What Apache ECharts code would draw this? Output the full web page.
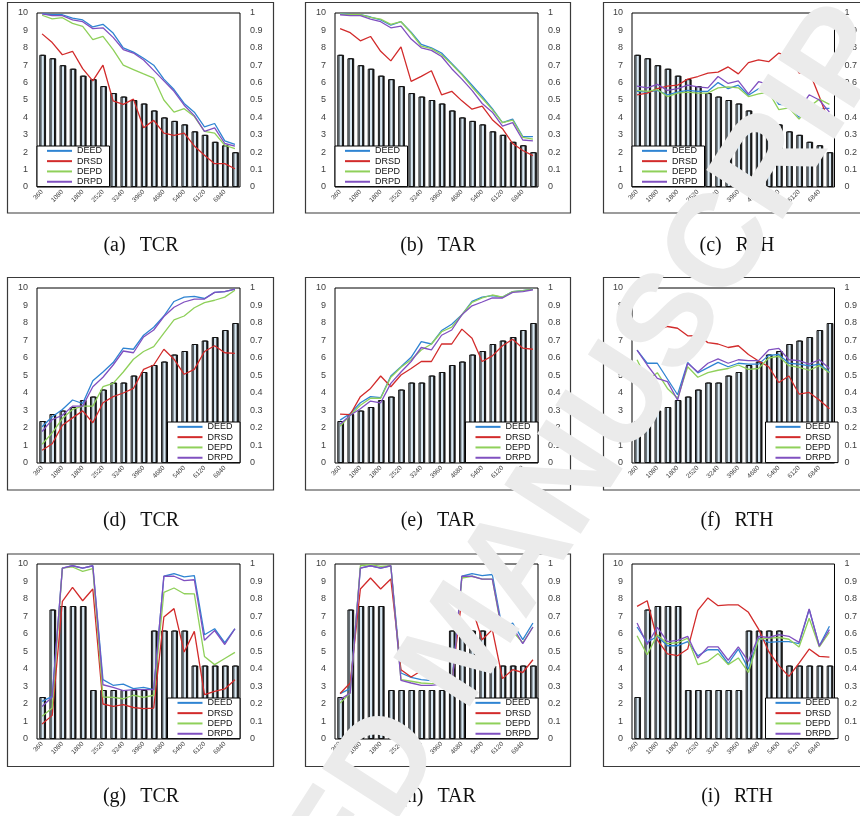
<!DOCTYPE html>
<html>
<head>
<meta charset="utf-8">
<script src="https://cdn.jsdelivr.net/npm/echarts@6/dist/echarts.min.js"></script>
<style>
html,body{margin:0;padding:0;background:#fff;}
#chart{width:860px;height:816px;}
</style>
</head>
<body>
<div id="chart"></div>
<script>
// ---------- data ----------
const categories = ['360','720','1080','1440','1800','2160','2520','2880','3240','3600','3960','4320','4680','5040','5400','5760','6120','6480','6840','7200'];
const seriesNames = ['DEED','DRSD','DEPD','DRPD'];
const captionLetters = ['(a)','(b)','(c)','(d)','(e)','(f)','(g)','(h)','(i)'];
const captionMetrics = ['TCR','TAR','RTH','TCR','TAR','RTH','TCR','TAR','RTH'];

const barsDec  = [7.6,7.4,7.0,6.8,6.4,6.2,5.8,5.4,5.2,5.0,4.8,4.4,4.0,3.8,3.6,3.2,3.0,2.6,2.4,2.0];
const barsInc  = [2.4,2.8,3.0,3.2,3.6,3.8,4.2,4.6,4.6,5.0,5.2,5.6,5.8,6.2,6.4,6.8,7.0,7.2,7.6,8.0];
const barsStep = [2.4,7.4,7.6,7.6,7.6,2.8,2.8,2.8,2.8,2.8,2.8,6.2,6.2,6.2,6.2,4.2,4.2,4.2,4.2,4.2];

const a_DEED = [0.996,0.99,0.99,0.97,0.96,0.92,0.935,0.885,0.80,0.775,0.74,0.70,0.62,0.56,0.48,0.43,0.345,0.365,0.265,0.245];
const a_DRSD = [0.88,0.83,0.76,0.78,0.68,0.61,0.70,0.495,0.475,0.505,0.34,0.383,0.31,0.297,0.31,0.236,0.182,0.134,0.134,0.105];
const a_DEPD = [0.987,0.966,0.973,0.94,0.923,0.847,0.866,0.79,0.70,0.675,0.65,0.626,0.50,0.43,0.45,0.405,0.32,0.31,0.24,0.22];
const a_DRPD = [0.995,0.985,0.985,0.96,0.95,0.91,0.915,0.86,0.79,0.77,0.73,0.67,0.61,0.55,0.47,0.41,0.32,0.34,0.25,0.235];

const b_DEED = [0.996,0.992,0.99,0.977,0.96,0.93,0.95,0.89,0.82,0.80,0.77,0.71,0.65,0.585,0.52,0.45,0.37,0.39,0.29,0.29];
const b_DRSD = [0.91,0.887,0.84,0.865,0.78,0.725,0.805,0.607,0.636,0.668,0.53,0.55,0.495,0.447,0.465,0.387,0.335,0.25,0.21,0.18];
const b_DEPD = [0.995,0.99,0.99,0.975,0.965,0.935,0.95,0.885,0.81,0.795,0.76,0.705,0.645,0.575,0.51,0.445,0.37,0.385,0.285,0.275];
const b_DRPD = [0.99,0.985,0.985,0.965,0.95,0.915,0.925,0.85,0.80,0.785,0.75,0.68,0.62,0.555,0.48,0.43,0.35,0.37,0.27,0.265];

const c_DEED = [0.55,0.545,0.555,0.53,0.545,0.555,0.55,0.55,0.60,0.565,0.585,0.527,0.565,0.56,0.475,0.47,0.40,0.465,0.45,0.452];
const c_DRSD = [0.53,0.54,0.565,0.58,0.585,0.62,0.635,0.655,0.66,0.69,0.65,0.715,0.73,0.72,0.77,0.75,0.655,0.665,0.52,0.365];
const c_DEPD = [0.555,0.55,0.56,0.52,0.54,0.545,0.54,0.54,0.57,0.575,0.57,0.52,0.535,0.545,0.445,0.455,0.39,0.46,0.505,0.475];
const c_DRPD = [0.58,0.57,0.59,0.555,0.565,0.585,0.575,0.57,0.635,0.595,0.61,0.535,0.605,0.59,0.485,0.475,0.445,0.53,0.50,0.43];

const d_DEED = [0.207,0.264,0.306,0.36,0.34,0.47,0.52,0.574,0.656,0.65,0.73,0.776,0.84,0.923,0.948,0.952,0.94,0.975,0.979,0.994];
const d_DRSD = [0.073,0.11,0.216,0.258,0.298,0.23,0.344,0.379,0.40,0.426,0.535,0.56,0.65,0.593,0.507,0.535,0.637,0.67,0.63,0.627];
const d_DEPD = [0.107,0.172,0.254,0.306,0.325,0.325,0.436,0.455,0.52,0.593,0.637,0.665,0.742,0.818,0.84,0.887,0.916,0.93,0.948,0.987];
const d_DRPD = [0.18,0.248,0.273,0.325,0.325,0.436,0.49,0.56,0.64,0.63,0.72,0.76,0.837,0.89,0.92,0.937,0.937,0.975,0.979,0.994];

const e_DEED = [0.245,0.283,0.344,0.379,0.373,0.497,0.55,0.604,0.694,0.68,0.757,0.793,0.847,0.924,0.948,0.956,0.948,0.979,0.985,0.994];
const e_DRSD = [0.279,0.277,0.379,0.426,0.497,0.436,0.503,0.54,0.58,0.58,0.68,0.68,0.765,0.713,0.58,0.612,0.67,0.707,0.656,0.65];
const e_DEPD = [0.21,0.273,0.33,0.37,0.37,0.49,0.547,0.59,0.646,0.68,0.75,0.776,0.847,0.918,0.943,0.96,0.948,0.979,0.985,0.994];
const e_DRPD = [0.222,0.273,0.31,0.354,0.344,0.455,0.52,0.58,0.66,0.646,0.73,0.76,0.847,0.898,0.92,0.943,0.943,0.975,0.979,0.99];

const f_DEED = [0.645,0.57,0.57,0.48,0.39,0.575,0.515,0.545,0.575,0.55,0.57,0.565,0.565,0.615,0.62,0.57,0.565,0.555,0.565,0.52];
const f_DRSD = [0.707,0.748,0.76,0.78,0.77,0.727,0.728,0.688,0.68,0.66,0.67,0.62,0.583,0.55,0.46,0.497,0.394,0.403,0.36,0.31];
const f_DEPD = [0.59,0.47,0.516,0.426,0.37,0.55,0.49,0.516,0.53,0.54,0.56,0.535,0.54,0.60,0.61,0.556,0.547,0.53,0.556,0.516];
const f_DRPD = [0.645,0.56,0.484,0.465,0.36,0.57,0.52,0.57,0.595,0.57,0.59,0.585,0.585,0.646,0.655,0.59,0.585,0.565,0.59,0.54];

const g_DEED = [0.215,0.244,0.977,0.99,0.977,0.99,0.339,0.307,0.314,0.288,0.295,0.282,0.93,0.945,0.926,0.933,0.596,0.63,0.55,0.63];
const g_DRSD = [0.086,0.135,0.787,0.867,0.79,0.857,0.20,0.186,0.196,0.18,0.173,0.177,0.697,0.745,0.497,0.615,0.253,0.272,0.286,0.339];
const g_DEPD = [0.13,0.177,0.977,0.983,0.958,0.973,0.24,0.238,0.23,0.25,0.238,0.25,0.838,0.863,0.83,0.829,0.472,0.425,0.46,0.495];
const g_DRPD = [0.186,0.24,0.977,0.99,0.977,0.99,0.31,0.295,0.276,0.282,0.282,0.282,0.93,0.93,0.905,0.91,0.564,0.62,0.54,0.63];

const h_DEED = [0.259,0.288,0.977,0.99,0.977,0.99,0.377,0.352,0.339,0.333,0.352,0.31,0.93,0.945,0.933,0.94,0.625,0.663,0.568,0.663];
const h_DRSD = [0.26,0.32,0.857,0.92,0.857,0.914,0.396,0.354,0.39,0.368,0.358,0.32,0.806,0.75,0.567,0.625,0.345,0.396,0.38,0.453];
const h_DEPD = [0.205,0.263,0.99,0.996,0.987,0.99,0.339,0.33,0.32,0.316,0.32,0.297,0.92,0.93,0.914,0.914,0.596,0.615,0.55,0.64];
const h_DRPD = [0.225,0.263,0.977,0.99,0.977,0.99,0.335,0.32,0.307,0.307,0.314,0.29,0.93,0.93,0.914,0.914,0.61,0.64,0.545,0.64];

const i_DEED = [0.64,0.552,0.587,0.533,0.533,0.557,0.476,0.51,0.51,0.43,0.514,0.40,0.576,0.552,0.557,0.557,0.545,0.74,0.533,0.644];
const i_DRSD = [0.758,0.79,0.567,0.486,0.476,0.514,0.735,0.806,0.762,0.766,0.766,0.724,0.628,0.50,0.419,0.358,0.434,0.514,0.472,0.468];
const i_DEPD = [0.59,0.482,0.596,0.545,0.55,0.576,0.425,0.444,0.488,0.425,0.463,0.38,0.57,0.576,0.58,0.57,0.526,0.69,0.526,0.61];
const i_DRPD = [0.663,0.54,0.638,0.557,0.564,0.587,0.463,0.526,0.526,0.45,0.526,0.444,0.587,0.58,0.596,0.587,0.552,0.743,0.53,0.625];

const panelBars  = [barsDec, barsDec, barsDec, barsInc, barsInc, barsInc, barsStep, barsStep, barsStep];
const panelLines = [
  [a_DEED,a_DRSD,a_DEPD,a_DRPD],[b_DEED,b_DRSD,b_DEPD,b_DRPD],[c_DEED,c_DRSD,c_DEPD,c_DRPD],
  [d_DEED,d_DRSD,d_DEPD,d_DRPD],[e_DEED,e_DRSD,e_DEPD,e_DRPD],[f_DEED,f_DRSD,f_DEPD,f_DRPD],
  [g_DEED,g_DRSD,g_DEPD,g_DRPD],[h_DEED,h_DRSD,h_DEPD,h_DRPD],[i_DEED,i_DRSD,i_DEPD,i_DRPD]
];
const leftTicks = [0,1,2,3,4,5,6,7,8,9,10];
const rightTicks = ['0','0.1','0.2','0.3','0.4','0.5','0.6','0.7','0.8','0.9','1'];

// ---------- styling / layout ----------
const lineColors = ['#2f84d2','#d22b2b','#8fd05a','#8050c0'];
const sans = '"Liberation Sans", Arial, sans-serif';
const serif = '"Liberation Serif", "DejaVu Serif", serif';
const W = 860;
const plotLeft = [37, 335, 632], plotRight = [240, 538, 838];
const plotTop = [13, 288, 564], plotBottom = [187, 463, 739];
const boxLeft = [7, 305, 603], boxRight = [273, 570, 880];
const boxTop = [2, 277, 553.5], boxBottom = [212.5, 489.5, 766];
const capX = [141, 438, 737], capY = [246, 521, 797];

const grid = [], xAxis = [], yAxis = [], series = [], legend = [], graphic = [];

for (let p = 0; p < 9; p++) {
  const r = Math.floor(p / 3), c = p % 3;
  grid.push({
    left: plotLeft[c], top: plotTop[r],
    width: plotRight[c] - plotLeft[c], height: plotBottom[r] - plotTop[r],
    show: true, borderColor: '#000', borderWidth: 1, backgroundColor: 'rgba(0,0,0,0)'
  });
  xAxis.push({
    type: 'category', gridIndex: p, data: categories,
    axisLine: {show: false}, axisTick: {show: false}, splitLine: {show: false},
    axisLabel: {interval: 1, rotate: 45, fontSize: 6.5, color: '#404040', margin: 4, fontFamily: sans}
  });
  yAxis.push({
    type: 'value', gridIndex: p, position: 'left', min: 0, max: 10, interval: 1,
    axisLine: {show: false}, axisTick: {show: false}, splitLine: {show: false},
    axisLabel: {fontSize: 9, color: '#404040', margin: 9, fontFamily: sans,
      formatter: v => String(leftTicks[Math.round(v)])}
  });
  yAxis.push({
    type: 'value', gridIndex: p, position: 'right', min: 0, max: 1, interval: 0.1,
    axisLine: {show: false}, axisTick: {show: false}, splitLine: {show: false},
    axisLabel: {fontSize: 9, color: '#404040', margin: 10, fontFamily: sans,
      formatter: v => rightTicks[Math.round(v * 10)]}
  });
  series.push({
    type: 'bar', name: 'bars' + p, xAxisIndex: p, yAxisIndex: 2 * p,
    data: panelBars[p], barWidth: '55%', silent: true,
    itemStyle: {color: '#d8e8f3', borderColor: '#111', borderWidth: 1,
      shadowColor: 'rgba(0,0,0,0.85)', shadowOffsetX: 1.2, shadowOffsetY: 0, shadowBlur: 0},
    z: 2
  });
  for (let s = 0; s < 4; s++) {
    series.push({
      type: 'line', name: seriesNames[s], xAxisIndex: p, yAxisIndex: 2 * p + 1,
      data: panelLines[p][s], symbol: 'none', silent: true,
      lineStyle: {width: 1.3, color: lineColors[s]}, itemStyle: {color: lineColors[s]},
      z: 3
    });
  }
  const lg = {
    data: seriesNames, orient: 'vertical', selectedMode: false,
    top: plotBottom[r] - 41,
    icon: 'rect', itemWidth: 25, itemHeight: 2, itemGap: 0.6,
    padding: [0, 7, 0, 10],
    backgroundColor: '#fff', borderColor: '#000', borderWidth: 1,
    textStyle: {fontSize: 9, fontFamily: sans, color: '#111', lineHeight: 9.7},
    z: 4
  };
  if (r === 0) lg.left = plotLeft[c]; else lg.right = W - plotRight[c];
  legend.push(lg);

  graphic.push({
    type: 'rect', z: 1, silent: true,
    shape: {x: boxLeft[c] + 0.5, y: boxTop[r] + 0.5, width: boxRight[c] - boxLeft[c], height: boxBottom[r] - boxTop[r]},
    style: {fill: 'none', stroke: '#3a3a3a', lineWidth: 1.2}
  });
  graphic.push({
    type: 'text', z: 1, silent: true, x: capX[c], y: capY[r],
    style: {
      text: captionLetters[p] + ' {t|' + captionMetrics[p] + '}',
      fontSize: 20, fontFamily: serif, fill: '#111',
      align: 'center', verticalAlign: 'middle',
      rich: {t: {fontSize: 20, fontFamily: serif, fill: '#111', padding: [0, 0, 0, 9]}}
    }
  });
}

// watermark
graphic.push({
  type: 'text', z: 100, silent: true, x: 466, y: 645, rotation: 1.0,
  style: {
    text: 'ACCEPTED MANUSCRIPT', fontSize: 132, fontWeight: 'bold', fontFamily: sans,
    fill: '#ebebeb', align: 'center', verticalAlign: 'middle'
  }
});

const chart = echarts.init(document.getElementById('chart'), null, {renderer: 'canvas'});
chart.setOption({
  animation: false, backgroundColor: '#fff',
  grid, xAxis, yAxis, series, legend, graphic
});
</script>
</body>
</html>
